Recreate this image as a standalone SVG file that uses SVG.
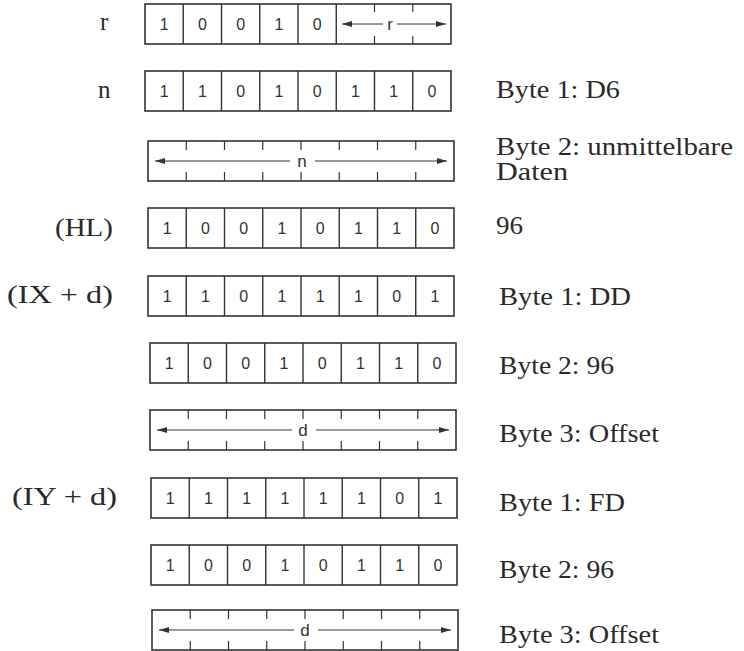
<svg xmlns="http://www.w3.org/2000/svg" width="744" height="651" viewBox="0 0 744 651">
<style>
.bg{fill:#fff}
.box{fill:none;stroke:#333;stroke-width:1.6}
.div{stroke:#333;stroke-width:1.4}
.tick{stroke:#333;stroke-width:1.2}
.arr{stroke:#333;stroke-width:1;fill:none}
.dg{font-family:"Liberation Sans","DejaVu Sans",sans-serif;font-size:16px;fill:#333;text-anchor:middle}
.fl{font-family:"Liberation Sans","DejaVu Sans",sans-serif;font-size:17px;fill:#333;text-anchor:middle}
.lb{font-family:"Liberation Serif","DejaVu Serif",serif;font-size:25px;fill:#2a2a2a}
</style>
<defs>
<marker id="ah" viewBox="0 0 10 6" refX="10" refY="3" markerWidth="10" markerHeight="6" markerUnits="userSpaceOnUse" orient="auto-start-reverse">
<path d="M0,0 L10,3 L0,6 Z" fill="#333"/>
</marker>
<g id="cells8">
<rect class="box" x="0" y="0" width="306" height="40"/>
<path class="div" d="M38.25,0V40M76.5,0V40M114.75,0V40M153,0V40M191.25,0V40M229.5,0V40M267.75,0V40"/>
</g>
<g id="field8">
<rect class="box" x="0" y="0" width="306" height="40"/>
<path class="tick" d="M38.25,0V9M76.5,0V9M114.75,0V9M153,0V9M191.25,0V9M229.5,0V9M267.75,0V9M38.25,31V40M76.5,31V40M114.75,31V40M153,31V40M191.25,31V40M229.5,31V40M267.75,31V40"/>
</g>
</defs>
<rect class="bg" x="0" y="0" width="744" height="651"/>

<g id="row-r">
<text class="lb" x="100" y="30">r</text>
<g transform="translate(145,4)">
<rect class="box" x="0" y="0" width="306" height="40"/>
<path class="div" d="M38.25,0V40M76.5,0V40M114.75,0V40M153,0V40M191.25,0V40"/>
<path class="tick" d="M229.5,0V8M267.75,0V8M229.5,32V40M267.75,32V40"/>
<text class="dg" x="19.1" y="26">1</text><text class="dg" x="57.4" y="26">0</text><text class="dg" x="95.6" y="26">0</text><text class="dg" x="133.9" y="26">1</text><text class="dg" x="172.1" y="26">0</text>
<path class="arr" d="M238,20H197" marker-end="url(#ah)"/>
<path class="arr" d="M252,20H301" marker-end="url(#ah)"/>
<text class="fl" x="245" y="26">r</text>
</g>
</g>

<g id="row-n">
<text class="lb" x="98" y="98">n</text>
<g transform="translate(145,71)">
<use href="#cells8"/>
<text class="dg" x="19.1" y="26">1</text><text class="dg" x="57.4" y="26">1</text><text class="dg" x="95.6" y="26">0</text><text class="dg" x="133.9" y="26">1</text><text class="dg" x="172.1" y="26">0</text><text class="dg" x="210.4" y="26">1</text><text class="dg" x="248.6" y="26">1</text><text class="dg" x="286.9" y="26">0</text>
</g>
<text class="lb" x="496" y="98" textLength="124" lengthAdjust="spacingAndGlyphs">Byte 1: D6</text>
</g>

<g id="row-n-data">
<g transform="translate(148,141)">
<use href="#field8"/>
<path class="arr" d="M142,20H7" marker-end="url(#ah)"/>
<path class="arr" d="M167,20H299" marker-end="url(#ah)"/>
<text class="fl" x="154" y="26">n</text>
</g>
<text class="lb" x="496" y="155" textLength="237" lengthAdjust="spacingAndGlyphs">Byte 2: unmittelbare</text>
<text class="lb" x="496" y="180" textLength="72" lengthAdjust="spacingAndGlyphs">Daten</text>
</g>

<g id="row-hl">
<text class="lb" x="55" y="236" textLength="58" lengthAdjust="spacingAndGlyphs">(HL)</text>
<g transform="translate(148,208)">
<use href="#cells8"/>
<text class="dg" x="19.1" y="26">1</text><text class="dg" x="57.4" y="26">0</text><text class="dg" x="95.6" y="26">0</text><text class="dg" x="133.9" y="26">1</text><text class="dg" x="172.1" y="26">0</text><text class="dg" x="210.4" y="26">1</text><text class="dg" x="248.6" y="26">1</text><text class="dg" x="286.9" y="26">0</text>
</g>
<text class="lb" x="496" y="234" textLength="27" lengthAdjust="spacingAndGlyphs">96</text>
</g>

<g id="row-ix-b1">
<text class="lb" x="7" y="303" textLength="106" lengthAdjust="spacingAndGlyphs">(IX + d)</text>
<g transform="translate(148,276)">
<use href="#cells8"/>
<text class="dg" x="19.1" y="26">1</text><text class="dg" x="57.4" y="26">1</text><text class="dg" x="95.6" y="26">0</text><text class="dg" x="133.9" y="26">1</text><text class="dg" x="172.1" y="26">1</text><text class="dg" x="210.4" y="26">1</text><text class="dg" x="248.6" y="26">0</text><text class="dg" x="286.9" y="26">1</text>
</g>
<text class="lb" x="499" y="305" textLength="132" lengthAdjust="spacingAndGlyphs">Byte 1: DD</text>
</g>

<g id="row-ix-b2">
<g transform="translate(150,343)">
<use href="#cells8"/>
<text class="dg" x="19.1" y="26">1</text><text class="dg" x="57.4" y="26">0</text><text class="dg" x="95.6" y="26">0</text><text class="dg" x="133.9" y="26">1</text><text class="dg" x="172.1" y="26">0</text><text class="dg" x="210.4" y="26">1</text><text class="dg" x="248.6" y="26">1</text><text class="dg" x="286.9" y="26">0</text>
</g>
<text class="lb" x="499" y="374" textLength="115" lengthAdjust="spacingAndGlyphs">Byte 2: 96</text>
</g>

<g id="row-ix-b3">
<g transform="translate(150,410)">
<use href="#field8"/>
<path class="arr" d="M142,20H7" marker-end="url(#ah)"/>
<path class="arr" d="M166,20H299" marker-end="url(#ah)"/>
<text class="fl" x="153" y="26">d</text>
</g>
<text class="lb" x="499" y="442" textLength="160" lengthAdjust="spacingAndGlyphs">Byte 3: Offset</text>
</g>

<g id="row-iy-b1">
<text class="lb" x="12" y="505" textLength="105" lengthAdjust="spacingAndGlyphs">(IY + d)</text>
<g transform="translate(151,478)">
<use href="#cells8"/>
<text class="dg" x="19.1" y="26">1</text><text class="dg" x="57.4" y="26">1</text><text class="dg" x="95.6" y="26">1</text><text class="dg" x="133.9" y="26">1</text><text class="dg" x="172.1" y="26">1</text><text class="dg" x="210.4" y="26">1</text><text class="dg" x="248.6" y="26">0</text><text class="dg" x="286.9" y="26">1</text>
</g>
<text class="lb" x="499" y="511" textLength="126" lengthAdjust="spacingAndGlyphs">Byte 1: FD</text>
</g>

<g id="row-iy-b2">
<g transform="translate(151,545)">
<use href="#cells8"/>
<text class="dg" x="19.1" y="26">1</text><text class="dg" x="57.4" y="26">0</text><text class="dg" x="95.6" y="26">0</text><text class="dg" x="133.9" y="26">1</text><text class="dg" x="172.1" y="26">0</text><text class="dg" x="210.4" y="26">1</text><text class="dg" x="248.6" y="26">1</text><text class="dg" x="286.9" y="26">0</text>
</g>
<text class="lb" x="499" y="578" textLength="115" lengthAdjust="spacingAndGlyphs">Byte 2: 96</text>
</g>

<g id="row-iy-b3">
<g transform="translate(152,610)">
<use href="#field8"/>
<path class="arr" d="M142,20H7" marker-end="url(#ah)"/>
<path class="arr" d="M166,20H299" marker-end="url(#ah)"/>
<text class="fl" x="153" y="26">d</text>
</g>
<text class="lb" x="499" y="643" textLength="160" lengthAdjust="spacingAndGlyphs">Byte 3: Offset</text>
</g>
</svg>
